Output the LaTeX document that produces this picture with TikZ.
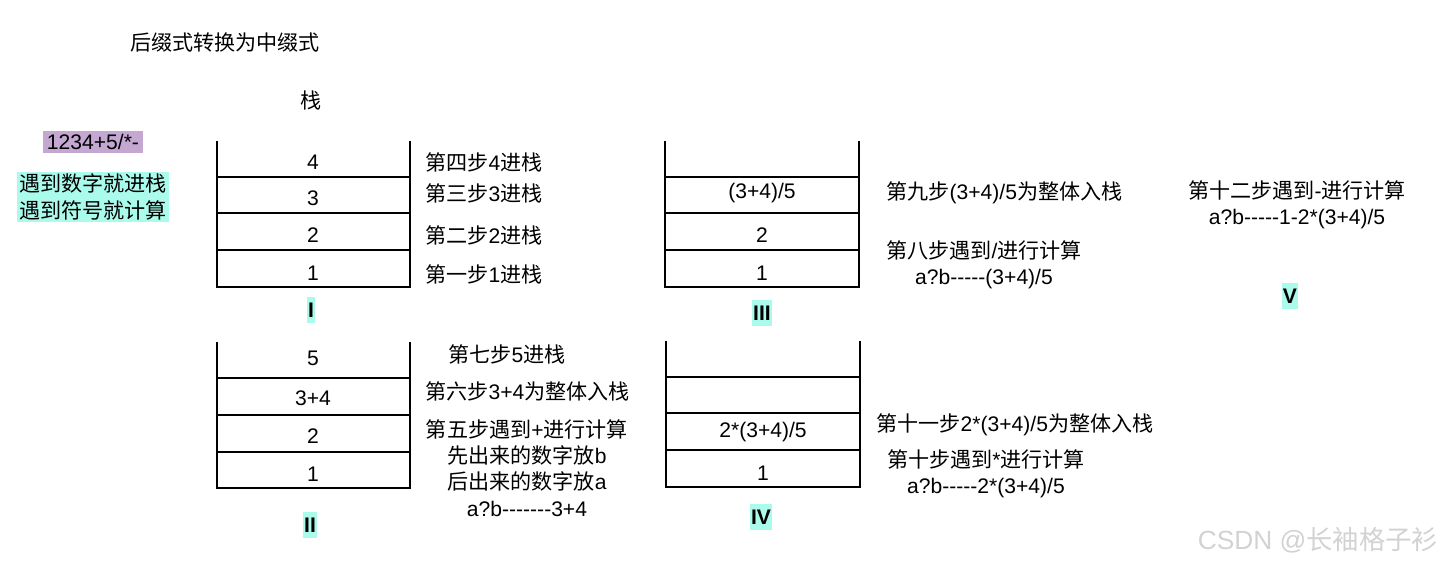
\documentclass[tikz,border=0pt]{standalone}
\usepackage{fontspec}
\setmainfont{Liberation Sans}[Ligatures=TeXOff]
\newfontfamily\cjk{Noto Sans CJK SC}
\usetikzlibrary{positioning}
\definecolor{tagpurple}{HTML}{C4A8D2}
\definecolor{tagcyan}{HTML}{AAFBEB}

\begin{document}
\begin{tikzpicture}[x=0.02cm, y=-0.02cm,
  cell/.style={font=\fontsize{12}{14}\selectfont, inner sep=0pt},
  note/.style={font=\fontsize{12}{15}\selectfont, inner sep=0pt, align=center},
  roman/.style={font=\fontsize{12}{14}\selectfont\bfseries, fill=tagcyan, inner xsep=0.6pt, inner ysep=3pt},
  wall/.style={line width=1.1pt}
]
  \useasboundingbox (0,0) rectangle (1440,565);

  % heading and hints
  \node[note] (title) at (225,42) {\cjk 后缀式转换为中缀式};
  \node[note] (stk) at (311,100) {\cjk 栈};
  \node[note, fill=tagpurple, inner sep=2pt] (expr) at (93,142) {1234+5/*-};
  \node[note, fill=tagcyan, inner sep=1pt] (rule) at (93,197) {\cjk 遇到数字就进栈\\\cjk 遇到符号就计算};

  % stack I
  \draw[wall] (217,141) -- (217,287) -- (410,287) -- (410,141);
  \foreach \y in {177,213,250} \draw[wall] (217,\y) -- (410,\y);
  \node[cell] (i4) at (313,162) {4};
  \node[cell] (i3) at (313,198) {3};
  \node[cell] (i2) at (313,235) {2};
  \node[cell] (i1) at (313,273) {1};
  \node[roman] (r1) at (311,310) {I};
  \node[note, anchor=west] (n4) at (425,162) {{\cjk 第四步}4{\cjk 进栈}};
  \node[note, anchor=west] (n3) at (425,193) {{\cjk 第三步}3{\cjk 进栈}};
  \node[note, anchor=west] (n2) at (425,235) {{\cjk 第二步}2{\cjk 进栈}};
  \node[note, anchor=west] (n1) at (425,274) {{\cjk 第一步}1{\cjk 进栈}};

  % stack II
  \draw[wall] (217,342) -- (217,488) -- (410,488) -- (410,342);
  \foreach \y in {378,415,452} \draw[wall] (217,\y) -- (410,\y);
  \node[cell] (ii4) at (313,358) {5};
  \node[cell] (ii3) at (313,398) {3+4};
  \node[cell] (ii2) at (313,436) {2};
  \node[cell] (ii1) at (313,474) {1};
  \node[roman] (r2) at (310,525) {II};
  \node[note] (n7) at (507,354) {{\cjk 第七步}5{\cjk 进栈}};
  \node[note, anchor=west] (n6) at (425,391) {{\cjk 第六步}3+4{\cjk 为整体入栈}};
  \node[note] (n5) at (527,468) {{\cjk 第五步遇到}+{\cjk 进行计算}\\{\cjk 先出来的数字放}b\\{\cjk 后出来的数字放}a\\a?b-------3+4};

  % stack III
  \draw[wall] (665,141) -- (665,287) -- (859,287) -- (859,141);
  \foreach \y in {177,213,250} \draw[wall] (665,\y) -- (859,\y);
  \node[cell] (iii3) at (762,193) {(3+4)/5};
  \node[cell] (iii2) at (762,235) {2};
  \node[cell] (iii1) at (762,273) {1};
  \node[roman] (r3) at (762,313) {III};
  \node[note, anchor=west] (n9) at (886,193) {{\cjk 第九步}(3+4)/5{\cjk 为整体入栈}};
  \node[note] (n8) at (984,265) {{\cjk 第八步遇到}/{\cjk 进行计算}\\a?b-----(3+4)/5};

  % stack IV
  \draw[wall] (666,341) -- (666,487) -- (860,487) -- (860,341);
  \foreach \y in {377,413,450} \draw[wall] (666,\y) -- (860,\y);
  \node[cell] (iv2) at (763,432) {2*(3+4)/5};
  \node[cell] (iv1) at (763,473) {1};
  \node[roman] (r4) at (761,517) {IV};
  \node[note, anchor=west] (n11) at (876,425) {{\cjk 第十一步}2*(3+4)/5{\cjk 为整体入栈}};
  \node[note] (n10) at (986,474) {{\cjk 第十步遇到}*{\cjk 进行计算}\\a?b-----2*(3+4)/5};

  % step V
  \node[note] (n12) at (1297,205) {{\cjk 第十二步遇到}-{\cjk 进行计算}\\a?b-----1-2*(3+4)/5};
  \node[roman] (r5) at (1290,296) {V};

  \node[font=\fontsize{15}{17}\selectfont, color=gray!35] (mark) at (1318,540) {CSDN @{\cjk 长袖格子衫}};
\end{tikzpicture}
\end{document}
